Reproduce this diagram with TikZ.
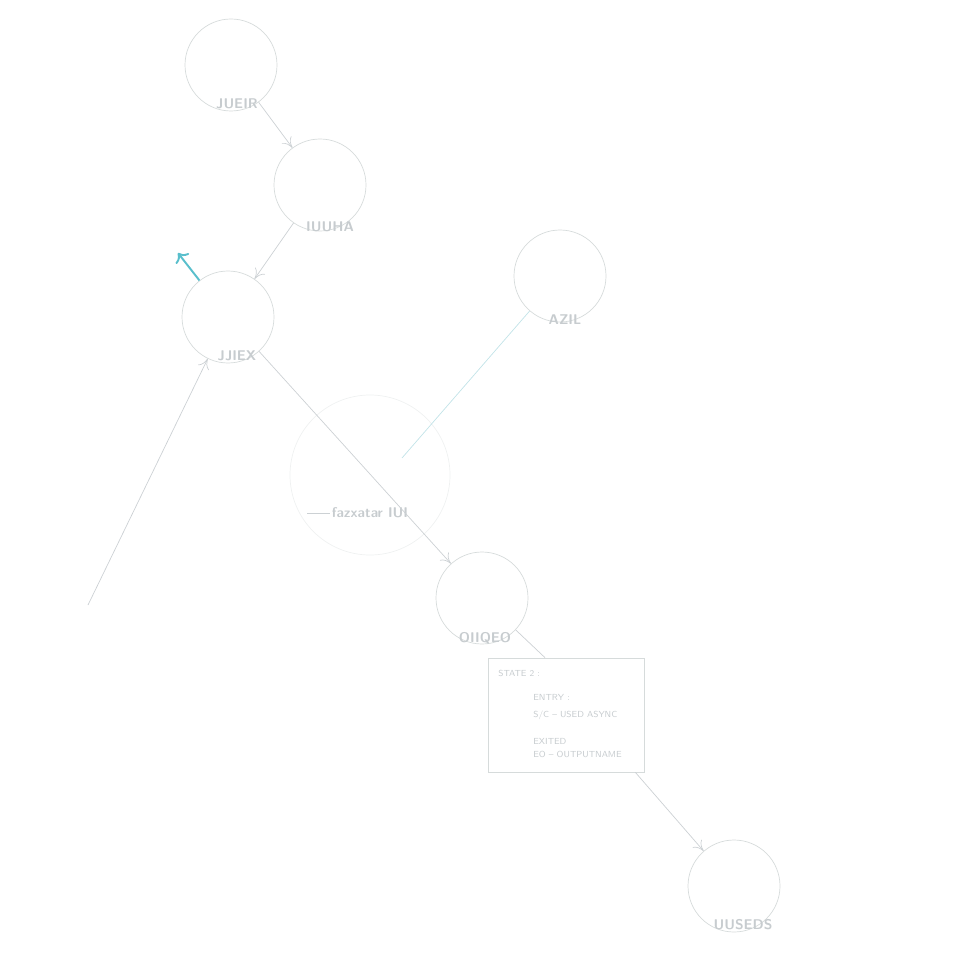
\documentclass[tikz,border=0pt]{standalone}
\usepackage{tikz}
\usetikzlibrary{positioning}
\usetikzlibrary{calc}
\usetikzlibrary{arrows.meta}
\definecolor{ringgray}{rgb}{0.84, 0.86, 0.86}
\definecolor{linegray}{rgb}{0.80, 0.82, 0.83}
\definecolor{paleteal}{rgb}{0.76, 0.89, 0.91}
\definecolor{tealtip}{rgb}{0.35, 0.75, 0.80}
\definecolor{textgray}{rgb}{0.78, 0.80, 0.81}

\begin{document}
\begin{tikzpicture}[x=0.2mm, y=-0.2mm,
    state/.style={circle, draw=ringgray, minimum size=18.4mm, inner sep=0pt},
    ghost/.style={circle, draw=ringgray!40, minimum size=32mm, inner sep=0pt},
    lbl/.style={font=\sffamily\bfseries\footnotesize, text=textgray, inner sep=1pt},
    boxtxt/.style={font=\sffamily\tiny, text=textgray, anchor=west, inner sep=0pt},
    link/.style={draw=linegray, -{To[length=2mm, width=2.4mm]}},
    tlink/.style={draw=paleteal}]
    \useasboundingbox (0, 0) rectangle (960, 960);

    % states
    \node[state] (A) at (231, 65) {};
    \node[state] (B) at (320, 185) {};
    \node[state] (C) at (228, 317) {};
    \node[state] (D) at (560, 276) {};
    \node[ghost] (E) at (370, 475) {};
    \node[state] (F) at (482, 598) {};
    \node[state] (G) at (734, 886) {};

    \node[lbl] (labA) at (237, 104) {JUEIR};
    \node[lbl] (labB) at (330, 227) {IUUHA};
    \node[lbl] (labC) at (237, 356) {JJIEX};
    \node[lbl] (labD) at (565, 320) {AZIL};
    \node[lbl] (labE) at (370, 513) {fazxatar IUI};
    \node[lbl] (labF) at (485, 638) {OIIQEO};
    \node[lbl] (labG) at (743, 925) {UUSEDS};

    % note box
    \node[draw=ringgray, minimum width=31.2mm, minimum height=22.8mm] (note) at (566, 715) {};
    \node[boxtxt] (n1) at (498, 673) {STATE 2 :};
    \node[boxtxt] (n2) at (533, 697) {ENTRY :};
    \node[boxtxt] (n3) at (533, 715) {S/C -- USED ASYNC};
    \node[boxtxt] (n4) at (533, 741) {EXITED};
    \node[boxtxt] (n5) at (533, 754) {EO -- OUTPUTNAME};

    \coordinate (start) at (88, 605);
    \coordinate (tip) at (178, 253);
    \coordinate (Eend) at (402, 458);
    \coordinate (dashL) at (307, 513);

    % connectors
    \draw[link] (A) -- (B);
    \draw[link] (B) -- (C);
    \draw[link] (start) -- (C);
    \draw[link] (C) -- (F);
    \draw[tlink] (D) -- (Eend);
    \draw[draw=tealtip, line width=1.1pt, -{To[length=1.6mm]}] (C) -- (tip);
    \draw[draw=linegray] (dashL) -- (labE.west);
    \draw[draw=linegray] (F) -- ([xshift=-4.2mm]note.north);
    \draw[link] ([xshift=-1.8mm]note.south east) -- (G);
\end{tikzpicture}
\end{document}
